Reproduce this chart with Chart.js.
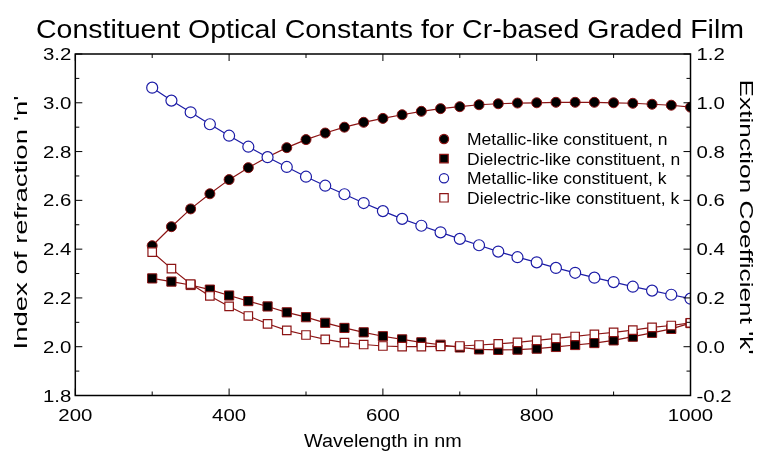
<!DOCTYPE html>
<html><head><meta charset="utf-8">
<script src="https://cdn.jsdelivr.net/npm/chart.js@4/dist/chart.umd.min.js"></script>
<style>html,body{margin:0;padding:0;background:#fff;}#wrap{width:762px;height:458px;}</style>
</head><body><div id="wrap"><canvas id="c" width="762" height="458"></canvas></div>
<script>
// ---- data ----
const wavelengths = [300,325,350,375,400,425,450,475,500,525,550,575,600,625,650,675,700,725,750,775,800,825,850,875,900,925,950,975,1000];
const metallicN = [2.414,2.492,2.565,2.627,2.685,2.734,2.778,2.816,2.849,2.876,2.900,2.920,2.936,2.951,2.965,2.976,2.984,2.992,2.996,2.999,3.000,3.002,3.002,3.002,3.000,2.998,2.994,2.990,2.982];
const dielectricN = [2.280,2.267,2.253,2.234,2.210,2.187,2.165,2.141,2.121,2.098,2.077,2.059,2.043,2.030,2.018,2.008,1.997,1.989,1.987,1.988,1.992,1.999,2.007,2.015,2.026,2.041,2.057,2.073,2.097];
const metallicK = [1.062,1.009,0.961,0.912,0.865,0.820,0.777,0.737,0.697,0.660,0.625,0.589,0.556,0.524,0.496,0.469,0.442,0.416,0.390,0.367,0.346,0.323,0.303,0.283,0.265,0.246,0.230,0.213,0.197];
const dielectricK = [0.388,0.320,0.257,0.208,0.165,0.126,0.094,0.067,0.048,0.030,0.017,0.009,0.003,0.000,0.000,0.001,0.003,0.007,0.012,0.018,0.026,0.034,0.042,0.051,0.059,0.068,0.079,0.087,0.098];
const seriesLabels = ["Metallic-like constituent, n","Dielectric-like constituent, n","Metallic-like constituent, k","Dielectric-like constituent, k"];
const xTicks = [200,400,600,800,1000];
const xMinorTicks = [300,500,700,900];
const nTicks = [1.8,2.0,2.2,2.4,2.6,2.8,3.0,3.2];
const kTicks = [-0.2,0.0,0.2,0.4,0.6,0.8,1.0,1.2];
const titleText = "Constituent Optical Constants for Cr-based Graded Film";
const xTitle = "Wavelength in nm";
const nTitle = "Index of refraction 'n'";
const kTitle = "Extinction Coefficient 'k'";

const RED = '#8c1414', BLUE = '#1c1ca6';
const FAM = '"Liberation Sans", Arial, Helvetica, sans-serif';
const pts = arr => wavelengths.map((w,i)=>({x:w,y:arr[i]}));

const datasets = [
  {label:seriesLabels[0], data:pts(metallicN), yAxisID:'yN', borderColor:RED, backgroundColor:'#000', pointBackgroundColor:'#000', pointBorderColor:RED, pointStyle:'circle', pointRadius:5, pointBorderWidth:1, borderWidth:1.2, order:4},
  {label:seriesLabels[1], data:pts(dielectricN), yAxisID:'yN', borderColor:RED, backgroundColor:'#000', pointBackgroundColor:'#000', pointBorderColor:RED, pointStyle:'rect', pointRadius:6.5, pointBorderWidth:1, borderWidth:1.2, order:3},
  {label:seriesLabels[2], data:pts(metallicK), yAxisID:'yK', borderColor:BLUE, backgroundColor:'#fff', pointBackgroundColor:'#fff', pointBorderColor:BLUE, pointStyle:'circle', pointRadius:5.5, pointBorderWidth:1.2, borderWidth:1.2, order:2},
  {label:seriesLabels[3], data:pts(dielectricK), yAxisID:'yK', borderColor:RED, backgroundColor:'#fff', pointBackgroundColor:'#fff', pointBorderColor:RED, pointStyle:'rect', pointRadius:6, pointBorderWidth:1.2, borderWidth:1.2, order:1}
];

// text drawn with a horizontal stretch, like the reference's wide lettering
function txt(ctx, s, x, y, size, sx, sy, align, base, rot){
  ctx.save();
  ctx.translate(x,y);
  if (rot) ctx.rotate(rot);
  ctx.scale(sx, sy);
  ctx.font = size + 'px ' + FAM;
  ctx.textAlign = align; ctx.textBaseline = base;
  ctx.fillStyle = '#000';
  ctx.fillText(s, 0, 0);
  ctx.restore();
}

const frame = {
  id:'frame',
  afterDraw(chart){
    const {ctx, chartArea:a, scales} = chart;
    const xs = scales.x, yn = scales.yN, yk = scales.yK;
    ctx.save();
    ctx.strokeStyle = '#000';
    ctx.lineWidth = 1;
    const MAJ = 7, MIN = 4;
    ctx.beginPath();
    xTicks.map(v=>[v,MAJ]).concat(xMinorTicks.map(v=>[v,MIN])).forEach(([v,l])=>{
      const px = xs.getPixelForValue(v);
      ctx.moveTo(px,a.bottom); ctx.lineTo(px,a.bottom-l);
      ctx.moveTo(px,a.top); ctx.lineTo(px,a.top+l);
    });
    nTicks.forEach((v,i)=>{
      const py = yn.getPixelForValue(v);
      ctx.moveTo(a.left,py); ctx.lineTo(a.left+MAJ,py);
      if (i < nTicks.length-1) {
        const pm = yn.getPixelForValue((v+nTicks[i+1])/2);
        ctx.moveTo(a.left,pm); ctx.lineTo(a.left+MIN,pm);
      }
    });
    kTicks.forEach((v,i)=>{
      const py = yk.getPixelForValue(v);
      ctx.moveTo(a.right,py); ctx.lineTo(a.right-MAJ,py);
      if (i < kTicks.length-1) {
        const pm = yk.getPixelForValue((v+kTicks[i+1])/2);
        ctx.moveTo(a.right,pm); ctx.lineTo(a.right-MIN,pm);
      }
    });
    ctx.stroke();
    ctx.lineWidth = 1.5;
    ctx.strokeRect(a.left,a.top,a.right-a.left,a.bottom-a.top);

    // tick labels
    xs.ticks.forEach(t=>txt(ctx, String(t.value), xs.getPixelForValue(t.value), a.bottom+25, 17, 1.2, 1, 'center', 'alphabetic'));
    yn.ticks.forEach(t=>txt(ctx, t.value.toFixed(1), a.left-4, yn.getPixelForValue(t.value)+6, 17, 1.2, 1, 'right', 'alphabetic'));
    yk.ticks.forEach(t=>txt(ctx, t.value.toFixed(1), a.right+6, yk.getPixelForValue(t.value)+6, 17, 1.2, 1, 'left', 'alphabetic'));
    // titles
    txt(ctx, titleText, 390, 37.5, 25, 1.14, 1, 'center', 'alphabetic');
    txt(ctx, xTitle, (a.left+a.right)/2, 447, 18, 1.1, 1, 'center', 'alphabetic');
    txt(ctx, nTitle, 22, 222.5, 19, 1.45, 1, 'center', 'middle', -Math.PI/2);
    txt(ctx, kTitle, 745, 217, 19, 1.38, 1, 'center', 'middle', Math.PI/2);

    // legend inside the plot
    const lx = 444, tx = 467, ly0 = 139, dy = 19.6;
    chart.data.datasets.forEach((d,i)=>{
      const y = ly0 + i*dy;
      ctx.lineWidth = 1.2;
      ctx.fillStyle = d.pointBackgroundColor;
      ctx.strokeStyle = d.pointBorderColor;
      ctx.beginPath();
      if (d.pointStyle === 'circle') ctx.arc(lx,y,4.6,0,Math.PI*2);
      else ctx.rect(lx-4.2,y-4.2,8.4,8.4);
      ctx.fill(); ctx.stroke();
      txt(ctx, d.label, tx, y+6, 17, 1.03, 1, 'left', 'alphabetic');
    });
    ctx.restore();
  }
};

new Chart(document.getElementById('c'), {
  type:'line',
  data:{datasets},
  options:{
    responsive:false, animation:false, devicePixelRatio:1,
    layout:{padding:{top:54}},
    elements:{line:{tension:0}},
    plugins:{legend:{display:false}, tooltip:{enabled:false}, title:{display:false}},
    scales:{
      x:{type:'linear', position:'bottom', min:200, max:1000,
        afterBuildTicks:s=>{s.ticks = xTicks.map(v=>({value:v}));},
        afterFit:s=>{s.height = 62.5;},
        grid:{display:false, drawTicks:false}, border:{display:false},
        ticks:{display:false}
      },
      yN:{type:'linear', position:'left', min:1.8, max:3.2,
        afterBuildTicks:s=>{s.ticks = nTicks.map(v=>({value:v}));},
        afterFit:s=>{s.width = 75.3;},
        grid:{display:false, drawTicks:false}, border:{display:false},
        ticks:{display:false}
      },
      yK:{type:'linear', position:'right', min:-0.2, max:1.2,
        afterBuildTicks:s=>{s.ticks = kTicks.map(v=>({value:v}));},
        afterFit:s=>{s.width = 71.5;},
        grid:{display:false, drawTicks:false}, border:{display:false},
        ticks:{display:false}
      }
    }
  },
  plugins:[frame]
});
</script></body></html>
